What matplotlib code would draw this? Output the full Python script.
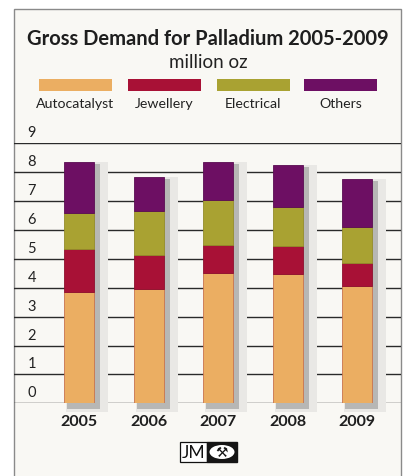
import numpy as np
import matplotlib.pyplot as plt
from matplotlib.patches import Rectangle, Ellipse
import matplotlib.transforms as mtransforms

plt.rcParams["font.family"] = ["Lato", "DejaVu Sans"]

# data (million oz)
years = ["2005", "2006", "2007", "2008", "2009"]
categories = ["Autocatalyst", "Jewellery", "Electrical", "Others"]
autocatalyst = [3.84, 3.97, 4.52, 4.46, 4.05]
jewellery = [1.50, 1.15, 0.97, 0.97, 0.79]
electrical = [1.26, 1.52, 1.56, 1.36, 1.28]
others = [1.74, 1.18, 1.29, 1.47, 1.63]
series = [autocatalyst, jewellery, electrical, others]
colors = ["#ebae62", "#a81136", "#a9a232", "#6d0f63"]
edges = ["#c8734e", "#8e0f2e", "#948c2a", "#5a0c52"]
yticks = list(range(10))

W, H = 403, 477
fig = plt.figure(figsize=(W / 100, H / 100), dpi=100)
fig.patch.set_facecolor("white")

def fx(px):
    return px / W

def fy(py):
    return 1 - py / H

# panel background
fig.patches.append(Rectangle((fx(14), fy(490)), fx(401) - fx(14), fy(10) - fy(490),
                             transform=fig.transFigure, facecolor="#f9f8f4",
                             edgecolor="#8a8a8a", lw=1.0, zorder=-5))

fig.text(fx(208), fy(39), "Gross Demand for Palladium 2005-2009", ha="center", va="center",
         fontsize=14.5, fontweight="bold", color="#1e1e1e")
fig.text(fx(208), fy(62), "million oz", ha="center", va="center", fontsize=13.5, color="#222222")

# legend
leg_x = [39, 128, 217, 304]
for x0, c, lab in zip(leg_x, colors, categories):
    fig.patches.append(Rectangle((fx(x0), fy(92)), fx(73), fy(80) - fy(92),
                                 transform=fig.transFigure, facecolor=c, edgecolor="none"))
    fig.text(fx(x0 + 36.5), fy(104), lab, ha="center", va="center", fontsize=10.2, color="#222222")

# main axes
ax = fig.add_axes([fx(14), fy(404.3), fx(401) - fx(14), fy(144.3) - fy(404.3)])
ax.set_facecolor("none")
x = np.arange(len(years))
ax.set_xlim(-0.941, 4.634)
ax.set_ylim(0, 9)
width = 0.432

ytrans = mtransforms.blended_transform_factory(ax.transAxes, ax.transData)
for v in yticks:
    ax.axhline(v, color="#2a2a2a", lw=1.0, zorder=1)
    ax.text(0.046, v + 0.38, str(v), transform=ytrans,
            ha="center", va="center", fontsize=10.5, color="#222222")

totals = np.sum(series, axis=0)
# drop shadows
ax.bar(x + 0.115, totals + 0.31, width=0.605, bottom=-0.31, color="#e9e8e5", zorder=2, clip_on=False)
ax.bar(x + 0.065, totals + 0.14, width=0.475, bottom=-0.21, color="#b7b7b5", zorder=2, clip_on=False)

bottom = np.zeros(len(years))
for vals, c, e in zip(series, colors, edges):
    ax.bar(x, vals, width=width, bottom=bottom, color=c, edgecolor=e, linewidth=0.6, zorder=3)
    bottom += np.array(vals)

ax.set_xticks(x)
ax.set_xticklabels(years, fontsize=11.5, fontweight="bold", color="#1e1e1e")
ax.tick_params(axis="x", length=0, pad=8)
ax.set_yticks([])
for s in ax.spines.values():
    s.set_visible(False)

# logo
fig.patches.append(Rectangle((fx(180), fy(463)), fx(27), fy(443) - fy(463),
                             transform=fig.transFigure, facecolor="white", edgecolor="#111111", lw=0.9))
fig.text(fx(193.5), fy(453), "JM", ha="center", va="center", fontsize=12.5, color="#111111")
fig.patches.append(Rectangle((fx(207), fy(463)), fx(30), fy(443) - fy(463),
                             transform=fig.transFigure, facecolor="#151515", edgecolor="#151515"))
fig.patches.append(Ellipse((fx(222), fy(453)), fx(25), fy(446) - fy(460),
                           transform=fig.transFigure, facecolor="white", edgecolor="none"))
fig.text(fx(222), fy(453), "\u2692", ha="center", va="center", fontsize=10, color="#151515",
         family="DejaVu Sans")

fig.savefig("out.png", dpi=100)
